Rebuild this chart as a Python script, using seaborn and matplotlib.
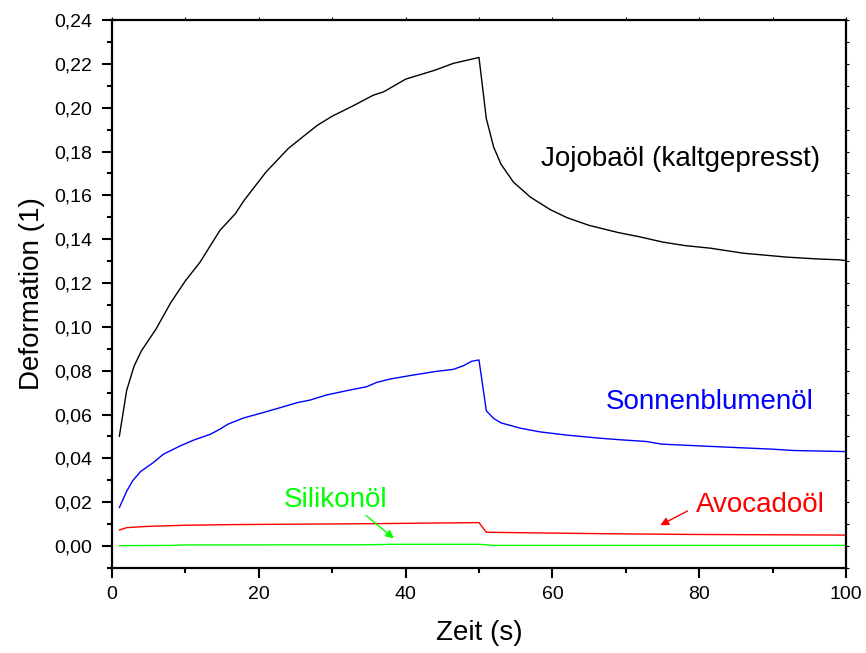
import matplotlib
matplotlib.use("Agg")
import matplotlib.pyplot as plt
from matplotlib.ticker import MultipleLocator, FuncFormatter
import seaborn as sns
import pandas as pd

# Jojobaöl (kaltgepresst)
x_jojoba = [1, 2, 3, 4, 6, 8, 10, 12, 14.7, 16.8, 18, 21, 24, 26, 28, 30, 33, 35.6, 37, 40,
            44, 46.5, 50, 51, 52, 53, 54.7, 57, 59.7, 62, 65, 69, 72, 75, 78, 81.5, 86, 92, 96, 99, 100]
y_jojoba = [0.050, 0.071, 0.082, 0.089, 0.099, 0.111, 0.121, 0.1295, 0.144, 0.1516, 0.1577, 0.1707,
            0.1813, 0.1867, 0.192, 0.1961, 0.2011, 0.2057, 0.2072, 0.213, 0.2171, 0.2202, 0.2229,
            0.195, 0.182, 0.1742, 0.166, 0.1592, 0.1535, 0.1498, 0.1463, 0.143, 0.141, 0.1387,
            0.1371, 0.1359, 0.1336, 0.1318, 0.131, 0.1306, 0.1302]

# Sonnenblumenöl
x_sonne = [1, 2, 2.8, 3.9, 5.6, 7, 9.3, 11.1, 13.4, 14.7, 15.8, 17.9, 20.6, 23.3, 25.2, 27, 29.2,
           32, 34.7, 36.1, 37.9, 41, 44.2, 46.5, 47.9, 49, 50, 51, 52, 53, 55.6, 58.3, 62, 66.5,
           69.2, 72.8, 74.9, 80, 84.6, 90, 92.8, 100]
y_sonne = [0.0175, 0.025, 0.0297, 0.034, 0.038, 0.0419, 0.0457, 0.0483, 0.051, 0.0533, 0.0556,
           0.0584, 0.0609, 0.0635, 0.0654, 0.0666, 0.0689, 0.0709, 0.0727, 0.0747, 0.0762, 0.078,
           0.0797, 0.0806, 0.0823, 0.0843, 0.0849, 0.0617, 0.0582, 0.0562, 0.0538, 0.0521, 0.0506,
           0.0492, 0.0485, 0.0477, 0.0465, 0.0457, 0.045, 0.0442, 0.0436, 0.0431]

# Avocadoöl
x_avocado = [1, 2, 5, 10, 16.5, 25.6, 35, 44, 50, 51, 58, 68, 79, 100]
y_avocado = [0.0073, 0.0084, 0.009, 0.0095, 0.0098, 0.0100, 0.0102, 0.0105, 0.0107,
             0.0063, 0.0060, 0.0056, 0.0053, 0.0050]

# Silikonöl
x_silikon = [1, 8, 10, 35, 38, 50, 52, 100]
y_silikon = [0.0002, 0.0003, 0.0005, 0.0006, 0.0008, 0.0008, 0.0003, 0.0003]

series = [
    ("Jojobaöl (kaltgepresst)", x_jojoba, y_jojoba, "black"),
    ("Sonnenblumenöl", x_sonne, y_sonne, "#0000FF"),
    ("Avocadoöl", x_avocado, y_avocado, "#FF0000"),
    ("Silikonöl", x_silikon, y_silikon, "#00FF00"),
]

sns.set_style("ticks")
plt.rcParams['font.family'] = ['Liberation Sans', 'DejaVu Sans']
plt.rcParams.update({'text.color': 'black', 'axes.labelcolor': 'black',
                     'xtick.color': 'black', 'ytick.color': 'black'})

fig = plt.figure(figsize=(8.66, 6.53), dpi=100)
ax = fig.add_axes([0.1293, 0.1302, 0.8476, 0.8392])

for name, xs, ys, col in series:
    df = pd.DataFrame({"x": xs, "y": ys})
    sns.lineplot(data=df, x="x", y="y", color=col, linewidth=1.0, ax=ax, sort=False)

ax.set_xlim(0, 100)
ax.set_ylim(-0.01, 0.24)
ax.xaxis.set_major_locator(MultipleLocator(20))
ax.xaxis.set_minor_locator(MultipleLocator(10))
ax.yaxis.set_major_locator(MultipleLocator(0.02))
ax.yaxis.set_minor_locator(MultipleLocator(0.01))
ax.yaxis.set_major_formatter(FuncFormatter(lambda v, p: f"{v:.2f}".replace(".", ",") if v > -0.005 else ""))
ax.xaxis.set_major_formatter(FuncFormatter(lambda v, p: f"{v:.0f}"))

for s in ax.spines.values():
    s.set_visible(True)
    s.set_linewidth(1.6)
    s.set_color("black")

ax.tick_params(which="major", direction="out", length=7, width=1.5, labelsize=14,
               top=True, right=True)
ax.tick_params(which="minor", direction="out", length=3.8, width=1.5, top=True, right=True)
ax.tick_params(axis="x", which="major", pad=6)
ax.tick_params(axis="y", which="major", pad=7)
ax.tick_params(axis="x", which="both", top=True, labeltop=False)
ax.tick_params(axis="y", which="both", right=True, labelright=False)
for t in ax.xaxis.get_ticklines(minor=False)[1::2] + ax.xaxis.get_ticklines(minor=True)[1::2]:
    t.set_markersize(2.5)
    t.set_markeredgewidth(0.8)
for t in ax.yaxis.get_ticklines(minor=False)[1::2] + ax.yaxis.get_ticklines(minor=True)[1::2]:
    t.set_markersize(2.5)
    t.set_markeredgewidth(0.8)

ax.set_xlabel("Zeit (s)", fontsize=20, labelpad=12)
ax.set_ylabel("Deformation (1)", fontsize=20, labelpad=7)

ax.text(77.4, 0.1734, "Jojobaöl (kaltgepresst)", color="black", fontsize=20, ha="center", va="baseline")
ax.text(81.4, 0.0625, "Sonnenblumenöl", color="#0000FF", fontsize=20, ha="center", va="baseline")
ax.text(30.5, 0.0178, "Silikonöl", color="#00FF00", fontsize=20, ha="center", va="baseline")
ax.text(88.4, 0.0157, "Avocadoöl", color="#FF0000", fontsize=20, ha="center", va="baseline")

ax.annotate("", xy=(38.4, 0.0035), xytext=(34.6, 0.0140),
            arrowprops=dict(arrowstyle="-|>", color="#00FF00", lw=1.0, mutation_scale=12,
                            shrinkA=0, shrinkB=0))
ax.annotate("", xy=(74.7, 0.0095), xytext=(78.4, 0.0160),
            arrowprops=dict(arrowstyle="-|>", color="#FF0000", lw=1.0, mutation_scale=12,
                            shrinkA=0, shrinkB=0))

fig.savefig("out.png", dpi=100)
